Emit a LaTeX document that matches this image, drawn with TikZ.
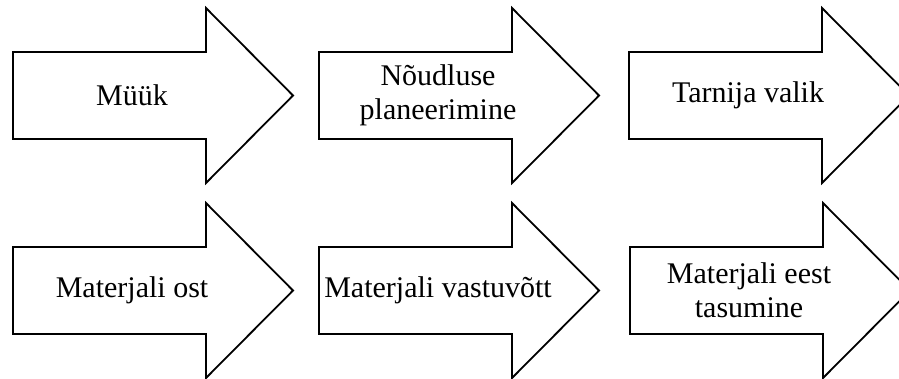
\documentclass[tikz,border=0pt]{standalone}
\usepackage{fontspec}
\setmainfont{Liberation Serif}
\begin{document}
\begin{tikzpicture}[x=1pt,y=-1pt,
  arrowshape/.style={draw=black,line width=1.8pt,line join=miter,fill=white},
  arrowtext/.style={align=center,font=\fontsize{30}{34}\selectfont,inner sep=0pt}]
\useasboundingbox (0,0) rectangle (899,378);
\clip (0,0) rectangle (899,378);
\foreach \n/\L/\cy/\txt in {a/13/95.5/{Müük},
  b/319/95.5/{Nõudluse\\planeerimine},
  c/629/95.5/{Tarnija valik},
  d/13/290.5/{Materjali ost},
  e/319/290.5/{Materjali vastuvõtt},
  f/630/290.5/{Materjali eest\\tasumine}}{
  \draw[arrowshape] (\L,\cy-43.5) -- (\L+193,\cy-43.5) -- (\L+193,\cy-87.5)
     -- (\L+280,\cy) -- (\L+193,\cy+87.5) -- (\L+193,\cy+43.5)
     -- (\L,\cy+43.5) -- cycle;
  \node[arrowtext] (\n) at (\L+119,\cy) {\txt};
}
\end{tikzpicture}
\end{document}
